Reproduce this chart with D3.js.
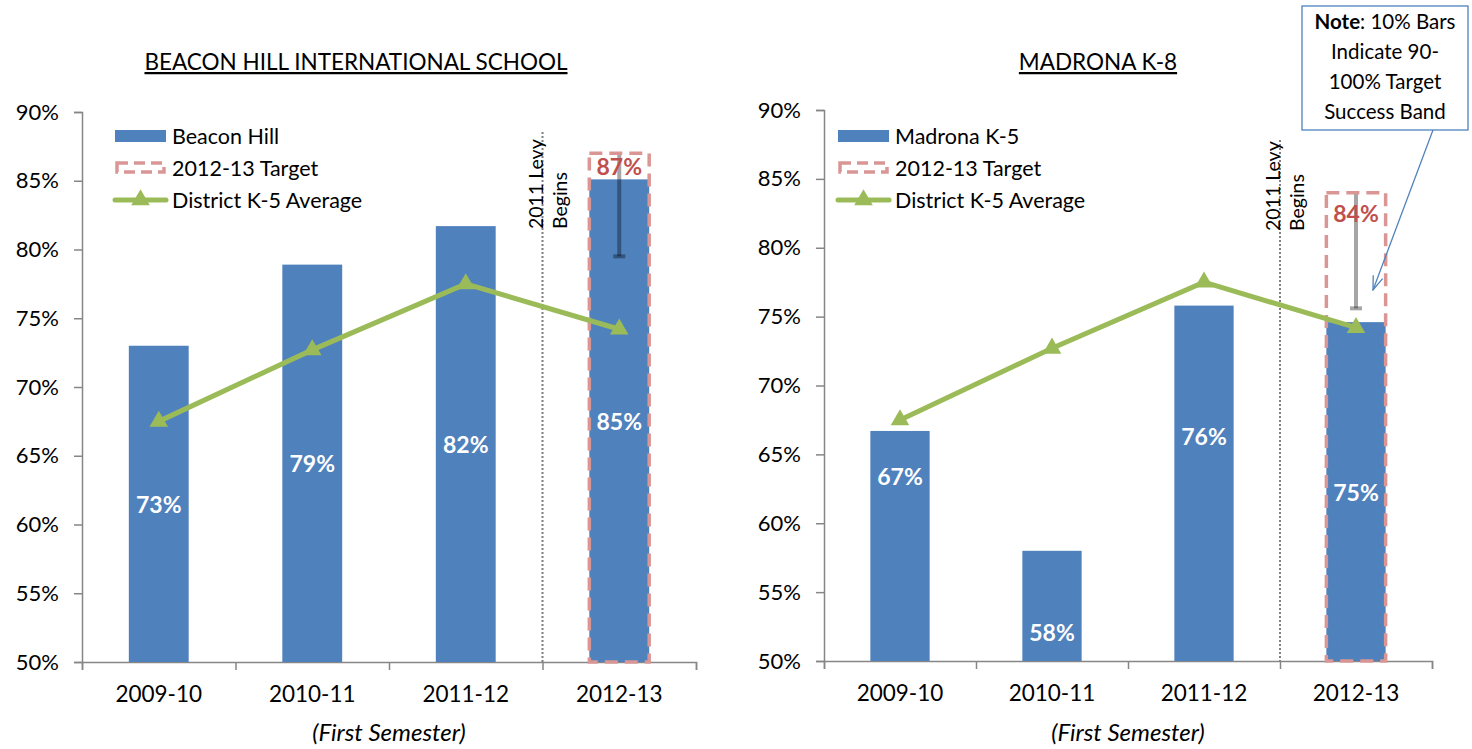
<!DOCTYPE html>
<html>
<head>
<meta charset="utf-8">
<script src="https://cdn.jsdelivr.net/npm/d3@7"></script>
<style>
  body { margin: 0; background: #fff; }
  svg text { font-family: Lato, "Open Sans", sans-serif; fill: #000; }
</style>
</head>
<body>
<div id="chart"></div>
<script>
// data
const categories = ['2009-10', '2010-11', '2011-12', '2012-13'];
const yTicks = [50, 55, 60, 65, 70, 75, 80, 85, 90];
const districtAvg = [67.5, 72.7, 77.5, 74.2];

const beaconHill = [73.0, 78.9, 81.7, 85.1];
const beaconTarget = 87;
const beaconBandLow = 79.5;

const madrona = [66.7, 58.0, 75.8, 74.6];
const madronaTarget = 84;
const madronaBandLow = 75.6;
const madronaLabelAt = [63.4, 52.1, 66.3, 62.3];

const noteLines = [': 10% Bars', 'Indicate 90-', '100% Target', 'Success Band'];

const W = 1472;
const H = 749;
const blue = '#4f81bd';
const green = '#9bbb59';
const red = '#c0504d';
const axisGray = '#868686';

const svg = d3.select('#chart').append('svg')
  .attr('width', W)
  .attr('height', H);

const defs = svg.append('defs');
defs.append('marker')
  .attr('id', 'arrow')
  .attr('viewBox', '0 0 16 12')
  .attr('markerUnits', 'userSpaceOnUse')
  .attr('markerWidth', 16)
  .attr('markerHeight', 12)
  .attr('refX', 15)
  .attr('refY', 6)
  .attr('orient', 'auto')
  .append('path')
  .attr('d', 'M1,1 L15,6 L1,11')
  .attr('fill', 'none')
  .attr('stroke', blue)
  .attr('stroke-width', 1.3);

const drawChart = (cfg) => {
  const x = d3.scaleBand()
    .domain(categories)
    .range([cfg.left, cfg.right])
    .paddingInner(0.61)
    .paddingOuter(0.305);

  const xb = d3.scaleLinear()
    .domain([0, categories.length])
    .range([cfg.left, cfg.right]);

  const y = d3.scaleLinear()
    .domain([50, 90])
    .range([cfg.bottom, cfg.top]);

  const g = svg.append('g');

  // title
  g.append('text')
    .attr('x', cfg.titleX)
    .attr('y', 70)
    .attr('text-anchor', 'middle')
    .style('font-size', '22.5px')
    .style('text-decoration', 'underline')
    .text(cfg.title);

  // y axis
  const yAxis = g.append('g')
    .attr('transform', `translate(${cfg.left},0)`)
    .call(d3.axisLeft(y).tickValues(yTicks).tickFormat(d => `${d}%`).tickSize(8).tickPadding(15));
  yAxis.select('.domain').attr('stroke', axisGray).attr('stroke-width', 1.5);
  yAxis.selectAll('.tick line').attr('stroke', axisGray).attr('stroke-width', 1.5);
  yAxis.selectAll('.tick text').style('font-size', '22px').attr('fill', '#000');

  // x axis: ticks on the band edges, labels in the middle
  const xTickAxis = g.append('g')
    .attr('transform', `translate(0,${cfg.bottom})`)
    .call(d3.axisBottom(xb).ticks(categories.length).tickSize(8).tickFormat(''));
  xTickAxis.select('.domain').attr('stroke', axisGray).attr('stroke-width', 1.5);
  xTickAxis.selectAll('.tick line').attr('stroke', axisGray).attr('stroke-width', 1.5);

  const xLabelAxis = g.append('g')
    .attr('transform', `translate(0,${cfg.bottom})`)
    .call(d3.axisBottom(x).tickSize(0).tickPadding(24));
  xLabelAxis.select('.domain').remove();
  xLabelAxis.selectAll('.tick text').style('font-size', '22.5px').attr('fill', '#000');

  g.append('text')
    .attr('x', (cfg.left + cfg.right) / 2)
    .attr('y', 741)
    .attr('text-anchor', 'middle')
    .style('font-size', '24px')
    .style('font-style', 'italic')
    .text('(First Semester)');

  // levy divider
  const levyX = xb(3);
  g.append('line')
    .attr('x1', levyX)
    .attr('x2', levyX)
    .attr('y1', cfg.levyTop)
    .attr('y2', cfg.bottom)
    .attr('stroke', '#7f7f7f')
    .attr('stroke-width', 2)
    .attr('stroke-dasharray', '2,2');

  const levyText = g.append('text')
    .attr('transform', `translate(${levyX},${cfg.levyBase}) rotate(-90)`)
    .style('font-size', '19.5px');
  levyText.append('tspan').attr('x', 0).attr('y', 0).text('2011 Levy');
  levyText.append('tspan').attr('x', 0).attr('y', 24).text('Begins');

  // bars
  g.selectAll('.bar')
    .data(cfg.values)
    .enter()
    .append('rect')
    .attr('class', 'bar')
    .attr('x', (d, i) => x(categories[i]))
    .attr('width', x.bandwidth())
    .attr('y', d => y(d))
    .attr('height', d => y(50) - y(d))
    .attr('fill', blue);

  // success band (error bar)
  const cx = x('2012-13') + x.bandwidth() / 2;
  const band = g.append('g')
    .attr('stroke', '#000')
    .attr('stroke-opacity', 0.35)
    .attr('stroke-width', 4);
  band.append('line')
    .attr('x1', cx).attr('x2', cx)
    .attr('y1', y(cfg.target)).attr('y2', y(cfg.bandLow));
  band.append('line')
    .attr('x1', cx - 6).attr('x2', cx + 6)
    .attr('y1', y(cfg.bandLow)).attr('y2', y(cfg.bandLow));

  // target box
  g.append('rect')
    .attr('x', x('2012-13'))
    .attr('width', x.bandwidth())
    .attr('y', y(cfg.target))
    .attr('height', y(50) - y(cfg.target))
    .attr('fill', 'none')
    .attr('stroke', '#d99694')
    .attr('stroke-width', 3.5)
    .attr('stroke-dasharray', '13,7');

  g.append('text')
    .attr('x', cx)
    .attr('y', y(cfg.target) + cfg.targetDy)
    .attr('text-anchor', 'middle')
    .attr('dominant-baseline', 'central')
    .style('font-size', '23px')
    .style('font-weight', 'bold')
    .style('fill', red)
    .text(`${cfg.target}%`);

  // bar labels
  g.selectAll('.barLabel')
    .data(cfg.values)
    .enter()
    .append('text')
    .attr('class', 'barLabel')
    .attr('x', (d, i) => x(categories[i]) + x.bandwidth() / 2)
    .attr('y', (d, i) => (cfg.labelAt ? y(cfg.labelAt[i]) : (y(d) + y(50)) / 2))
    .attr('text-anchor', 'middle')
    .attr('dominant-baseline', 'central')
    .style('font-size', '23px')
    .style('font-weight', 'bold')
    .style('fill', '#fff')
    .text(d => `${Math.round(d)}%`);

  // district average
  const line = d3.line()
    .x((d, i) => x(categories[i]) + x.bandwidth() / 2)
    .y(d => y(d));

  g.append('path')
    .datum(districtAvg)
    .attr('d', line)
    .attr('fill', 'none')
    .attr('stroke', green)
    .attr('stroke-width', 5);

  g.selectAll('.dot')
    .data(districtAvg)
    .enter()
    .append('path')
    .attr('class', 'dot')
    .attr('d', d3.symbol(d3.symbolTriangle).size(150))
    .attr('transform', (d, i) => `translate(${x(categories[i]) + x.bandwidth() / 2},${y(d)})`)
    .attr('fill', green);

  // legend
  const lg = g.append('g').attr('transform', `translate(${cfg.legendX},${cfg.legendY})`);
  lg.append('rect')
    .attr('x', 0).attr('y', -6)
    .attr('width', 51).attr('height', 12)
    .attr('fill', blue);
  lg.append('text')
    .attr('x', 57).attr('y', 0)
    .attr('dominant-baseline', 'central')
    .style('font-size', '21.5px')
    .text(cfg.name);

  lg.append('rect')
    .attr('x', 2).attr('y', 27)
    .attr('width', 47).attr('height', 9)
    .attr('fill', 'none')
    .attr('stroke', '#d99694')
    .attr('stroke-width', 3.5)
    .attr('stroke-dasharray', '11,6');
  lg.append('text')
    .attr('x', 57).attr('y', 32)
    .attr('dominant-baseline', 'central')
    .style('font-size', '21.5px')
    .text('2012-13 Target');

  lg.append('line')
    .attr('x1', 0).attr('x2', 51)
    .attr('y1', 64).attr('y2', 64)
    .attr('stroke', green)
    .attr('stroke-width', 5)
    .attr('stroke-linecap', 'round');
  lg.append('path')
    .attr('d', d3.symbol(d3.symbolTriangle).size(150))
    .attr('transform', 'translate(25.5,64)')
    .attr('fill', green);
  lg.append('text')
    .attr('x', 57).attr('y', 64)
    .attr('dominant-baseline', 'central')
    .style('font-size', '21.5px')
    .text('District K-5 Average');
};

drawChart({
  title: 'BEACON HILL INTERNATIONAL SCHOOL',
  titleX: 356,
  name: 'Beacon Hill',
  values: beaconHill,
  target: beaconTarget,
  bandLow: beaconBandLow,
  targetDy: 13,
  left: 82,
  right: 696,
  top: 112,
  bottom: 662,
  levyTop: 132,
  levyBase: 229,
  legendX: 115,
  legendY: 136,
});

drawChart({
  title: 'MADRONA K-8',
  titleX: 1098,
  name: 'Madrona K-5',
  values: madrona,
  target: madronaTarget,
  bandLow: madronaBandLow,
  targetDy: 20,
  labelAt: madronaLabelAt,
  left: 824,
  right: 1432,
  top: 110,
  bottom: 661,
  levyTop: 140,
  levyBase: 231,
  legendX: 838,
  legendY: 136,
});

// note callout
const note = svg.append('g');
note.append('line')
  .attr('x1', 1433).attr('y1', 130)
  .attr('x2', 1373).attr('y2', 290)
  .attr('stroke', blue)
  .attr('stroke-width', 1.3)
  .attr('marker-end', 'url(#arrow)');
note.append('rect')
  .attr('x', 1302).attr('y', 6)
  .attr('width', 166).attr('height', 124)
  .attr('fill', '#fff')
  .attr('stroke', blue)
  .attr('stroke-width', 1.3);
noteLines.forEach((t, i) => {
  const txt = note.append('text')
    .attr('x', 1385)
    .attr('y', 21 + i * 30)
    .attr('text-anchor', 'middle')
    .attr('dominant-baseline', 'central')
    .style('font-size', '20.5px');
  if (i === 0) txt.append('tspan').style('font-weight', 'bold').text('Note');
  txt.append('tspan').text(t);
});
</script>
</body>
</html>
